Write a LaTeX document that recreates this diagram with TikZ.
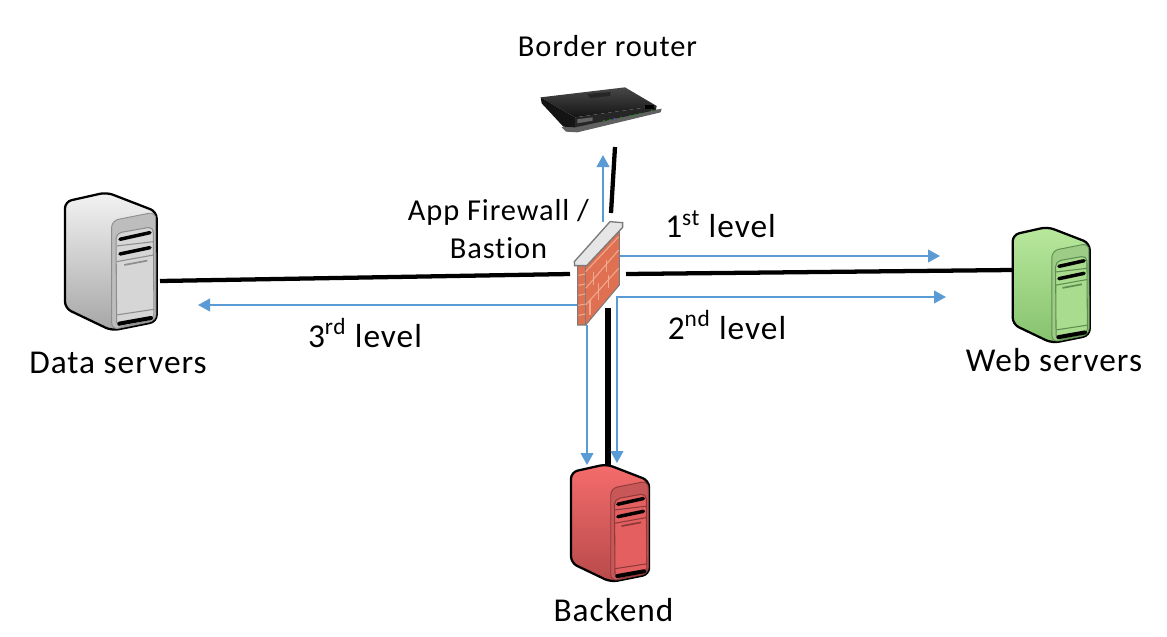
\documentclass[tikz,border=0pt]{standalone}
\usepackage{fontspec}
\setmainfont[LetterSpace=3,Ligatures=NoCommon]{Carlito}
\usetikzlibrary{arrows.meta}
\definecolor{linkblue}{HTML}{5B9BD5}
\definecolor{gT}{HTML}{F3F3F3}\definecolor{gB}{HTML}{A6A6A6}\definecolor{gF}{HTML}{BDBDBD}\definecolor{gP}{HTML}{D6D6D6}\definecolor{gL}{HTML}{8E8E8E}
\definecolor{wT}{HTML}{B8E89C}\definecolor{wB}{HTML}{86C26F}\definecolor{wF}{HTML}{9CCC85}\definecolor{wP}{HTML}{A9DC8E}\definecolor{wL}{HTML}{5E8F50}
\definecolor{rT}{HTML}{F56C6C}\definecolor{rB}{HTML}{B84A4A}\definecolor{rF}{HTML}{C85858}\definecolor{rP}{HTML}{E46060}\definecolor{rL}{HTML}{8E3A3A}
\definecolor{brick}{HTML}{E07052}\definecolor{mortar}{HTML}{EFA98E}\definecolor{capc}{HTML}{E6E6E6}\definecolor{wallline}{HTML}{7A7A7A}
\tikzset{
  wire/.style={line width=3.2pt,black},
  flow/.style={line width=1.5pt,linkblue,-{Triangle[length=9pt,width=9.5pt]}},
  flowboth/.style={line width=1.5pt,linkblue,{Triangle[length=9pt,width=9.5pt]}-{Triangle[length=9pt,width=9.5pt]}},
  big/.style={font=\fontsize{25}{29}\selectfont,inner sep=0pt,text=black},
  mid/.style={font=\fontsize{22.8}{28}\selectfont,inner sep=0pt,text=black,align=center},
  mortarline/.style={mortar,line width=.8pt},
}
% #1 origin, #2 scale, #3 top, #4 bottom, #5 face, #6 panel, #7 trim
\newcommand{\serverbody}[7]{%
\begin{scope}[shift={#1},scale=#2]
  \path[draw=black,line width=1.7pt,top color=#3,bottom color=#4,rounded corners=5pt,line join=round]
    (0,25) -- (125,-3) -- (275,55) -- (275,385) -- (140,412) -- (0,345) -- cycle;
  \path[fill=#5,draw=#7,line width=.7pt,rounded corners=5pt]
    (140,82) -- (272,56) -- (273,382) -- (140,409) -- cycle;
  \path[fill=#6,draw=#7,line width=.8pt,rounded corners=4pt]
    (153,120) -- (265,100) -- (267,380) -- (155,402) -- cycle;
  \draw[#7,line width=.8pt] (155,158) -- (266,145);
  \draw[#7,line width=.8pt] (155,205) -- (266,185);
  \draw[#7,line width=.8pt] (155,365) -- (267,348);
  \draw[black,line width=2.6pt,line cap=round] (165,138) -- (255,118);
  \draw[black,line width=2.6pt,line cap=round] (165,182) -- (255,163);
  \draw[black,line width=3pt,line cap=round] (163,391) -- (258,374);
  \draw[#7,line width=1.3pt] (178,215) -- (247,202);
\end{scope}}
\begin{document}
\begin{tikzpicture}[x=.75pt,y=-.75pt]
\useasboundingbox (0,0) rectangle (1167,636);
\fill[white] (0,0) rectangle (1167,636);
% anchors
\coordinate (routerend) at (615,147);
\coordinate (fwtop) at (611,213);
\coordinate (dataend) at (160,281);
\coordinate (fwleft) at (570,274);
\coordinate (fwright) at (626,274);
\coordinate (webend) at (1012,270);
\coordinate (fwbottom) at (608,308);
\coordinate (backtop) at (608,466);
\coordinate (upstart) at (603,222);
\coordinate (uptip) at (603,155);
\coordinate (l1start) at (620,256);
\coordinate (l1tip) at (940,256);
\coordinate (l2tipa) at (617,463);
\coordinate (l2corner) at (617,297);
\coordinate (l2tipb) at (946,297);
\coordinate (l3start) at (578,305);
\coordinate (l3tip) at (198,305);
\coordinate (downstart) at (587,325);
\coordinate (downtip) at (587,465);
% connectors
\draw[wire] (routerend) -- (fwtop);
\draw[wire] (dataend) -- (fwleft);
\draw[wire] (fwright) -- (webend);
\draw[wire,line width=3.8pt] (fwbottom) -- (backtop);
\draw[flow] (upstart) -- (uptip);
\draw[flow] (l1start) -- (l1tip);
\draw[flowboth] (l2tipa) -- (l2corner) -- (l2tipb);
\draw[flow] (l3start) -- (l3tip);
\draw[flow] (downstart) -- (downtip);
% servers
\serverbody{(65,193.3)}{.3333}{gT}{gB}{gF}{gP}{gL}
\serverbody{(1012.7,227.7)}{.28}{wT}{wB}{wF}{wP}{wL}
\serverbody{(571,465)}{.284}{rT}{rB}{rF}{rP}{rL}
% firewall
\begin{scope}[shift={(540,200)},scale=.3333]
  \fill[brick] (113,195) -- (238,88) -- (238,255) -- (137,375) -- (113,375) -- cycle;
  \draw[wallline,line width=.8pt] (113,195) -- (113,375) -- (137,375) -- (238,255) -- (238,88);
  \draw[wallline,line width=.5pt] (137,197) -- (137,375);
  \foreach \a in {226,256,286,316,346}{ \draw[mortarline] (115,\a) -- (136,\a-4);}
  \draw[mortarline] (137,265) -- (236,150);
  \draw[mortarline] (137,315) -- (236,205);
  \draw[mortarline] (137,215) -- (236,110);
  \draw[mortarline] (160,215) -- (160,255);
  \draw[mortarline] (200,180) -- (200,215);
  \draw[mortarline] (175,250) -- (175,300);
  \draw[mortarline] (205,225) -- (205,265);
  \draw[mortarline] (150,300) -- (150,345);
  \fill[capc] (103,185) -- (210,65) -- (248,68) -- (248,82) -- (140,197) -- (104,197) -- cycle;
  \draw[wallline,line width=1pt] (103,185) -- (210,65) -- (248,68) -- (248,82) -- (140,197) -- (104,197) -- cycle;
\end{scope}
% router
\begin{scope}[shift={(500,70)},scale=.3333]
  \fill[black!62] (185,172) -- (485,116) -- (482,127) -- (232,187) -- (198,185) -- cycle;
  \path[top color=black!72,bottom color=black!92] (122,82) -- (375,52) -- (470,108) -- (225,142) -- cycle;
  \fill[black!92] (122,82) -- (225,142) -- (225,172) -- (190,170) -- (125,100) -- cycle;
  \fill[black!85] (225,142) -- (470,108) -- (468,120) -- (225,172) -- cycle;
  \fill[black!60] (232,148) -- (278,142) -- (278,152) -- (232,160) -- cycle;
  \fill[black!85] (262,72) -- (332,66) -- (330,78) -- (270,84) -- cycle;
  \foreach \p in {(312,152),(330,149),(362,143),(390,138),(405,135),(420,131),(455,121)}
    \fill[green!65!black] \p circle (2.5);
  \fill[blue!70!white] (344,146) circle (2.5);
  \fill[black] (435,106) rectangle (462,118);
\end{scope}
% labels
\node[mid] (routerlabel) at (607.5,46) {Border router};
\node[mid] (fwlabel) at (498.5,229) {App Firewall /\\Bastion};
\node[big] (l1) at (720.5,224) {1\textsuperscript{st} level};
\node[big] (l2) at (727,325) {2\textsuperscript{nd} level};
\node[big] (l3) at (365,333) {3\textsuperscript{rd} level};
\node[big] (data) at (118,363) {Data servers};
\node[big] (web) at (1054,360) {Web servers};
\node[big] (back) at (613.5,610) {Backend};
\end{tikzpicture}
\end{document}
